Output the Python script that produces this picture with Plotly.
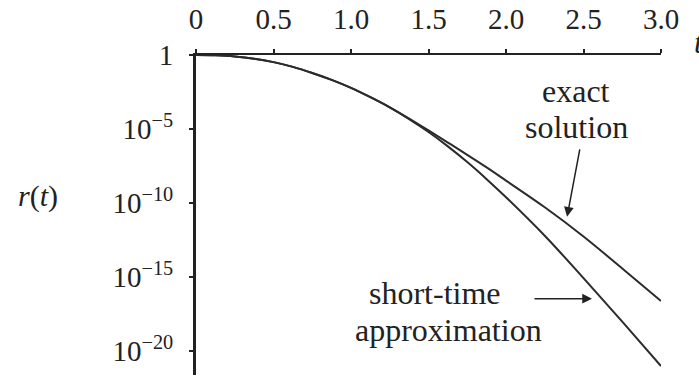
import plotly.graph_objects as go

# time values (shared)
t_vals = [0.0, 0.125, 0.25, 0.375, 0.5, 0.625, 0.75, 0.875, 1.0, 1.125, 1.25, 1.375,
          1.5, 1.625, 1.75, 1.875, 2.0, 2.25, 2.5, 2.75, 3.0]
# log10 r(t), exact solution
log_exact = [0.0, -0.02, -0.094, -0.246, -0.48, -0.80, -1.21, -1.68, -2.22, -2.85, -3.53, -4.29,
             -5.09, -5.91, -6.74, -7.59, -8.48, -10.28, -12.25, -14.41, -16.6]
# log10 r(t), short-time approximation
log_short = [0.0, -0.02, -0.094, -0.246, -0.48, -0.80, -1.21, -1.68, -2.22, -2.85, -3.54, -4.33,
             -5.2, -6.17, -7.23, -8.38, -9.6, -12.2, -15.06, -18.0, -21.0]

x_ticks = [0, 0.5, 1.0, 1.5, 2.0, 2.5, 3.0]
x_ticktext = ["0", "0.5", "1.0", "1.5", "2.0", "2.5", "3.0"]
y_tickexp = [0, -5, -10, -15, -20]
y_ticktext = ["1", "10<sup>\u22125</sup>", "10<sup>\u221210</sup>", "10<sup>\u221215</sup>", "10<sup>\u221220</sup>"]

FONT = "Liberation Serif"
INK = "#222222"
CURVE = "#2b2b2b"

fig = go.Figure()
fig.add_trace(go.Scatter(x=t_vals, y=[10 ** v for v in log_exact], mode="lines",
                         line=dict(color=CURVE, width=2, shape="spline", smoothing=1.0),
                         showlegend=False, name="exact solution"))
fig.add_trace(go.Scatter(x=t_vals, y=[10 ** v for v in log_short], mode="lines",
                         line=dict(color=CURVE, width=2, shape="spline", smoothing=1.0),
                         showlegend=False, name="short-time approximation"))

fig.update_layout(
    width=699, height=378,
    margin=dict(l=196, r=38, t=46, b=3),
    paper_bgcolor="white", plot_bgcolor="white",
    font=dict(family=FONT, size=29, color=INK),
    xaxis=dict(side="top", range=[0, 3], tickvals=x_ticks, ticktext=x_ticktext,
               showgrid=False, zeroline=False, showline=True, linecolor=INK, linewidth=2,
               ticks="outside", ticklen=4, tickwidth=1.5, tickcolor=INK,
               ticklabelstandoff=8, tickfont=dict(family=FONT, size=29, color=INK)),
    yaxis=dict(type="log", range=[-21.6, 0], tickvals=[10 ** e for e in y_tickexp], ticktext=y_ticktext,
               showgrid=False, zeroline=False, showline=True, linecolor=INK, linewidth=3,
               ticks="outside", ticklen=4, tickwidth=1.5, tickcolor=INK,
               ticklabelstandoff=10, tickfont=dict(family=FONT, size=29, color=INK)),
)

ann_font = dict(family=FONT, size=32, color=INK)
fig.add_annotation(x=2.452, y=-2.43, xref="x", yref="y", text="exact", showarrow=False, font=ann_font)
fig.add_annotation(x=2.452, y=-4.87, xref="x", yref="y", text="solution", showarrow=False, font=ann_font)
fig.add_annotation(x=1.542, y=-16.05, xref="x", yref="y", text="short-time", showarrow=False, font=ann_font)
fig.add_annotation(x=1.632, y=-18.55, xref="x", yref="y", text="approximation", showarrow=False, font=ann_font)

# arrows
fig.add_annotation(x=2.394, y=-10.92, xref="x", yref="y", text="", showarrow=True,
                   ax=13, ay=-69, arrowhead=2, arrowsize=1.3, arrowwidth=1.5, arrowcolor=INK)
fig.add_annotation(x=2.555, y=-16.45, xref="x", yref="y", text="", showarrow=True,
                   ax=-59, ay=0, arrowhead=2, arrowsize=1.3, arrowwidth=1.5, arrowcolor=INK)

# axis titles
fig.add_annotation(x=-0.34, y=0.56, xref="paper", yref="paper", text="<i>r</i>(<i>t</i>)",
                   xanchor="center", yanchor="middle",
                   showarrow=False, font=dict(family=FONT, size=30, color=INK))
fig.add_annotation(x=1.067, y=1.04, xref="paper", yref="paper", text="<i>t</i>",
                   xanchor="left", yanchor="middle",
                   showarrow=False, font=dict(family=FONT, size=32, color=INK))

fig.write_html("out.html")
